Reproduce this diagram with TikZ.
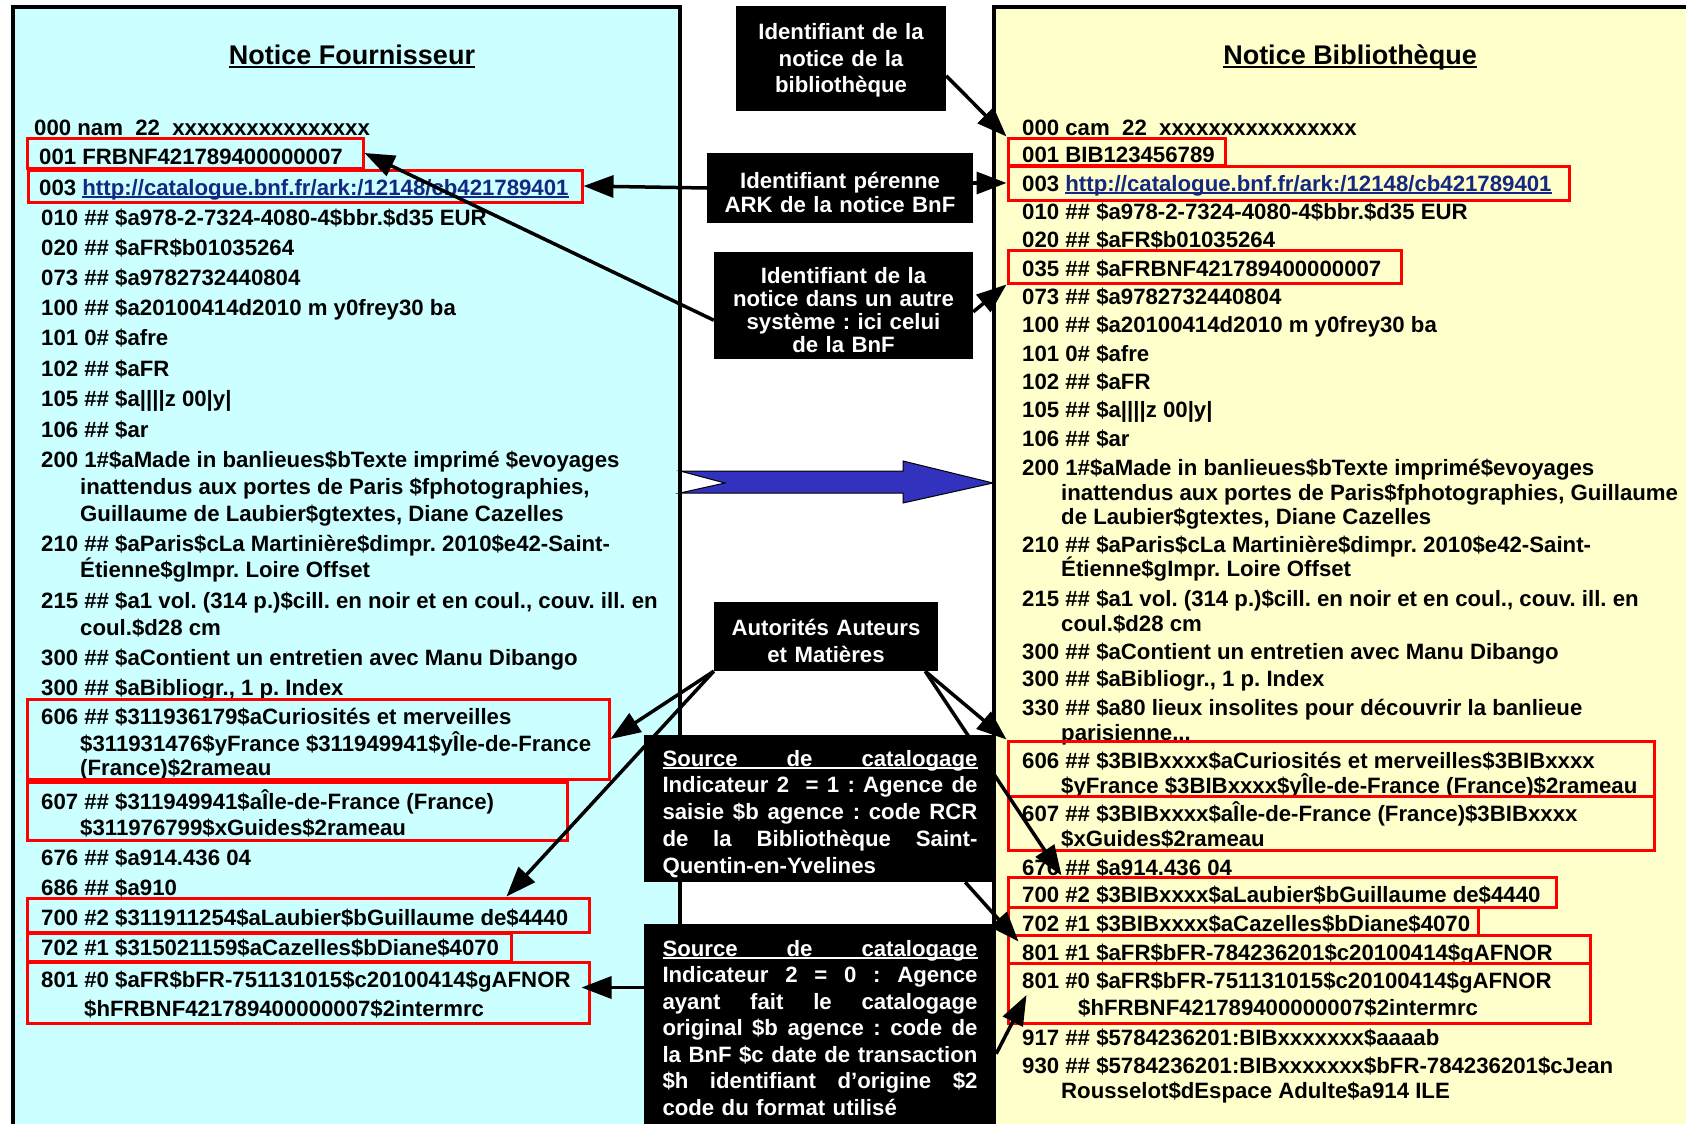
\documentclass[tikz,border=0pt]{standalone}
\usepackage{fontspec}
\setmainfont{Liberation Sans}
\usetikzlibrary{arrows.meta,positioning,fit,calc}

\definecolor{cyanbg}{RGB}{204,255,255}
\definecolor{yellowbg}{RGB}{255,255,204}
\definecolor{linkblue}{RGB}{20,40,130}
\definecolor{bigarrow}{RGB}{50,50,190}

\newsavebox\ulbox
\newcommand\ulined[2][-3pt]{\sbox\ulbox{#2}\rlap{\rule[#1]{\wd\ulbox}{1.7pt}}\usebox\ulbox}
\newcommand\lnk[1]{\textcolor{linkblue}{\ulined{#1}}}
\newcommand\jline[1]{{\spaceskip=0.278em plus 1fil\makebox[315pt][s]{#1}}}

\begin{document}
\begin{tikzpicture}[x=1pt, y=-1pt,
  every node/.style={font=\bfseries\frenchspacing\fontsize{22.2}{26.5}\selectfont},
  marc/.style={anchor=base west, inner sep=0pt},
  heading/.style={anchor=base, inner sep=0pt, font=\bfseries\fontsize{27}{30}\selectfont},
  redbox/.style={draw=red, line width=3pt, inner sep=0pt},
  blackbox/.style={fill=black, text=white, inner sep=0pt, align=center, anchor=base},
  conn/.style={line width=3.5pt, -{Triangle[length=30pt,width=22pt]}}]
  \useasboundingbox (0,0) rectangle (1686,1124);
  \clip (0,0) rectangle (1686,1124);
  % the two records
  \draw[line width=4pt, fill=cyanbg] (13,7) rectangle (680,1140);
  \draw[line width=4pt, fill=yellowbg] (994,7) rectangle (1700,1140);
  \node[heading] (titreF) at (352,64) {\ulined[-3.8pt]{Notice Fournisseur}};
  \node[heading] (titreB) at (1350,64) {\ulined[-3.8pt]{Notice Bibliothèque}};
  % supplier record
  \foreach \x/\y/\t [count=\n] in {
    34/135/{000 nam \ 22 \ xxxxxxxxxxxxxxxx},
    39/164/{001 FRBNF421789400000007},
    39/195/{003 \lnk{http://catalogue.bnf.fr/ark:/12148/cb421789401}},
    41/225/{010 \#\# \$a978-2-7324-4080-4\$bbr.\$d35 EUR},
    41/255/{020 \#\# \$aFR\$b01035264},
    41/285/{073 \#\# \$a9782732440804},
    41/315/{100 \#\# \$a20100414d2010 m y0frey30 ba},
    41/345/{101 0\# \$afre},
    41/376/{102 \#\# \$aFR},
    41/406/{105 \#\# \$a||||z 00|y|},
    41/437/{106 \#\# \$ar},
    41/467/{200 1\#\$aMade in banlieues\$bTexte imprimé \$evoyages},
    80/494/{inattendus aux portes de Paris \$fphotographies,},
    80/521/{Guillaume de Laubier\$gtextes, Diane Cazelles},
    41/551/{210 \#\# \$aParis\$cLa Martinière\$dimpr. 2010\$e42-Saint-},
    80/577/{Étienne\$gImpr. Loire Offset},
    41/608/{215 \#\# \$a1 vol. (314 p.)\$cill. en noir et en coul., couv. ill. en},
    80/635/{coul.\$d28 cm},
    41/665/{300 \#\# \$aContient un entretien avec Manu Dibango},
    41/695/{300 \#\# \$aBibliogr., 1 p. Index},
    41/724/{606 \#\# \$311936179\$aCuriosités et merveilles},
    80/751/{\$311931476\$yFrance \$311949941\$yÎle-de-France},
    80/775/{(France)\$2rameau},
    41/809/{607 \#\# \$311949941\$aÎle-de-France (France)},
    80/835/{\$311976799\$xGuides\$2rameau},
    41/865/{676 \#\# \$a914.436 04},
    41/895/{686 \#\# \$a910},
    41/925/{700 \#2 \$311911254\$aLaubier\$bGuillaume de\$4440},
    41/955/{702 \#1 \$315021159\$aCazelles\$bDiane\$4070},
    41/987/{801 \#0 \$aFR\$bFR-751131015\$c20100414\$gAFNOR},
    84/1016/{\$hFRBNF421789400000007\$2intermrc}}
    \node[marc] (fl\n) at (\x,\y) {\t};
  % library record
  \foreach \x/\y/\t [count=\n] in {
    1022/135/{000 cam \ 22 \ xxxxxxxxxxxxxxxx},
    1022/162/{001 BIB123456789},
    1022/191/{003 \lnk{http://catalogue.bnf.fr/ark:/12148/cb421789401}},
    1022/219/{010 \#\# \$a978-2-7324-4080-4\$bbr.\$d35 EUR},
    1022/247/{020 \#\# \$aFR\$b01035264},
    1022/276/{035 \#\# \$aFRBNF421789400000007},
    1022/304/{073 \#\# \$a9782732440804},
    1022/332/{100 \#\# \$a20100414d2010 m y0frey30 ba},
    1022/361/{101 0\# \$afre},
    1022/389/{102 \#\# \$aFR},
    1022/417/{105 \#\# \$a||||z 00|y|},
    1022/446/{106 \#\# \$ar},
    1022/475/{200 1\#\$aMade in banlieues\$bTexte imprimé\$evoyages},
    1061/500/{inattendus aux portes de Paris\$fphotographies, Guillaume},
    1061/524/{de Laubier\$gtextes, Diane Cazelles},
    1022/552/{210 \#\# \$aParis\$cLa Martinière\$dimpr. 2010\$e42-Saint-},
    1061/576/{Étienne\$gImpr. Loire Offset},
    1022/606/{215 \#\# \$a1 vol. (314 p.)\$cill. en noir et en coul., couv. ill. en},
    1061/631/{coul.\$d28 cm},
    1022/659/{300 \#\# \$aContient un entretien avec Manu Dibango},
    1022/686/{300 \#\# \$aBibliogr., 1 p. Index},
    1022/715/{330 \#\# \$a80 lieux insolites pour découvrir la banlieue},
    1061/740/{parisienne...},
    1022/768/{606 \#\# \$3BIBxxxx\$aCuriosités et merveilles\$3BIBxxxx},
    1061/793/{\$yFrance \$3BIBxxxx\$yÎle-de-France (France)\$2rameau},
    1022/821/{607 \#\# \$3BIBxxxx\$aÎle-de-France (France)\$3BIBxxxx},
    1061/846/{\$xGuides\$2rameau},
    1022/875/{676 \#\# \$a914.436 04},
    1022/902/{700 \#2 \$3BIBxxxx\$aLaubier\$bGuillaume de\$4440},
    1022/931/{702 \#1 \$3BIBxxxx\$aCazelles\$bDiane\$4070},
    1022/960/{801 \#1 \$aFR\$bFR-784236201\$c20100414\$gAFNOR},
    1022/988/{801 \#0 \$aFR\$bFR-751131015\$c20100414\$gAFNOR},
    1078/1015/{\$hFRBNF421789400000007\$2intermrc},
    1022/1045/{917 \#\# \$5784236201:BIBxxxxxxx\$aaaab},
    1022/1073/{930 \#\# \$5784236201:BIBxxxxxxx\$bFR-784236201\$cJean},
    1061/1098/{Rousselot\$dEspace Adulte\$a914 ILE}}
    \node[marc] (bl\n) at (\x,\y) {\t};
  % highlighted fields
  \node[redbox, fit={(27,138) (363,168)}] (lb001) {};
  \node[redbox, fit={(28,170) (582,202)}] (lb003) {};
  \node[redbox, fit={(27,699) (609,779)}] (lb606) {};
  \node[redbox, fit={(27,782) (567,840)}] (lb607) {};
  \node[redbox, fit={(27,898) (589,932)}] (lb700) {};
  \node[redbox, fit={(27,933) (511,961)}] (lb702) {};
  \node[redbox, fit={(27,962) (589,1023)}] (lb801) {};
  \node[redbox, fit={(1008,138) (1225,165)}] (rb001) {};
  \node[redbox, fit={(1008,166) (1569,200)}] (rb003) {};
  \node[redbox, fit={(1008,250) (1401,283)}] (rb035) {};
  \node[redbox, fit={(1008,741) (1654,796)}] (rb606) {};
  \node[redbox, fit={(1008,796) (1654,850)}] (rb607) {};
  \node[redbox, fit={(1008,877) (1556,907)}] (rb700) {};
  \node[redbox, fit={(1008,907) (1478,935)}] (rb702) {};
  \node[redbox, fit={(1008,935) (1590,963)}] (rb801a) {};
  \node[redbox, fit={(1008,963) (1590,1023)}] (rb801b) {};
  % big arrow supplier -> library
  \draw[fill=bigarrow, line width=1pt] (680,471) -- (903,471) -- (903,461) -- (993,483)
    -- (903,503) -- (903,493) -- (680,493) -- (725,483) -- cycle;
  % captions
  \node[blackbox, text width=210pt, text height=34pt, text depth=71pt] (idBib) at (841,40)
    {Identifiant de la\\notice de la\\bibliothèque};
  \node[blackbox, text width=266pt, text height=35pt, text depth=35pt,
    font=\bfseries\frenchspacing\fontsize{22.2}{24}\selectfont] (idArk) at (840,188)
    {Identifiant pérenne\\ARK de la notice BnF};
  \node[blackbox, text width=259pt, text height=31pt, text depth=76pt,
    font=\bfseries\frenchspacing\fontsize{22.2}{23.3}\selectfont] (idAutre) at (843.5,283)
    {Identifiant de la\\notice dans un autre\\système : ici celui\\de la BnF};
  \node[blackbox, text width=224pt, text height=33pt, text depth=36pt,
    font=\bfseries\frenchspacing\fontsize{22.2}{27}\selectfont] (autor) at (826,635)
    {Autorités Auteurs\\et Matières};
  \draw[conn] ($(idBib.north east)+(0,70)$) -- (rb001.north west);
  \draw[conn] (idArk.east |- rb003.west) -- (rb003.west);
  \draw[conn] (idArk.west) -- (lb003.east);
  \draw[conn] ($(idAutre.south west)+(0,-39)$) -- (lb001.east);
  \draw[conn] ($(idAutre.north east)+(0,60)$) -- (rb035.south west);
  \draw[conn] (autor.south west) -- (lb606.east);
  \draw[conn] (autor.south west) -- ($(lb700.north east)+(-84,0)$);
  \draw[conn] ($(autor.south east)+(-13,0)$) -- (rb606.north west);
  \draw[conn] ($(autor.south east)+(-13,0)$) -- ($(rb700.north west)+(55,0)$);
  % cataloguing source
  \node[blackbox, text width=352pt, text height=31pt, text depth=116pt,
    font=\bfseries\frenchspacing\fontsize{22.2}{26.75}\selectfont] (src1) at (820,766)
    {\ulined[-3pt]{\jline{Source de catalogage}}\\
     \jline{Indicateur 2 \ = 1 : Agence de}\\
     \jline{saisie \$b agence : code RCR}\\
     \jline{de la Bibliothèque Saint-}\\
     \makebox[315pt][l]{Quentin-en-Yvelines}};
  \node[blackbox, text width=352pt, text height=32pt, text depth=200pt] (src0) at (820,956)
    {\ulined[-3pt]{\jline{Source de catalogage}}\\
     \jline{Indicateur 2 = 0 : Agence}\\
     \jline{ayant fait le catalogage}\\
     \jline{original \$b agence : code de}\\
     \jline{la BnF \$c date de transaction}\\
     \jline{\$h identifiant d’origine \$2}\\
     \makebox[315pt][l]{code du format utilisé}};
  \coordinate (lbtip) at ($(lb801.east)+(-9,-5)$);
  \draw[conn] ($(src1.south east)+(-31,0)$) -- ($(rb801a.north west)+(12,8)$);
  \draw[conn] ($(src0.north east)+(0,130)$) -- ($(rb801b.west)+(20,2)$);
  \draw[conn] (src0.west |- lbtip) -- (lbtip);
\end{tikzpicture}
\end{document}
